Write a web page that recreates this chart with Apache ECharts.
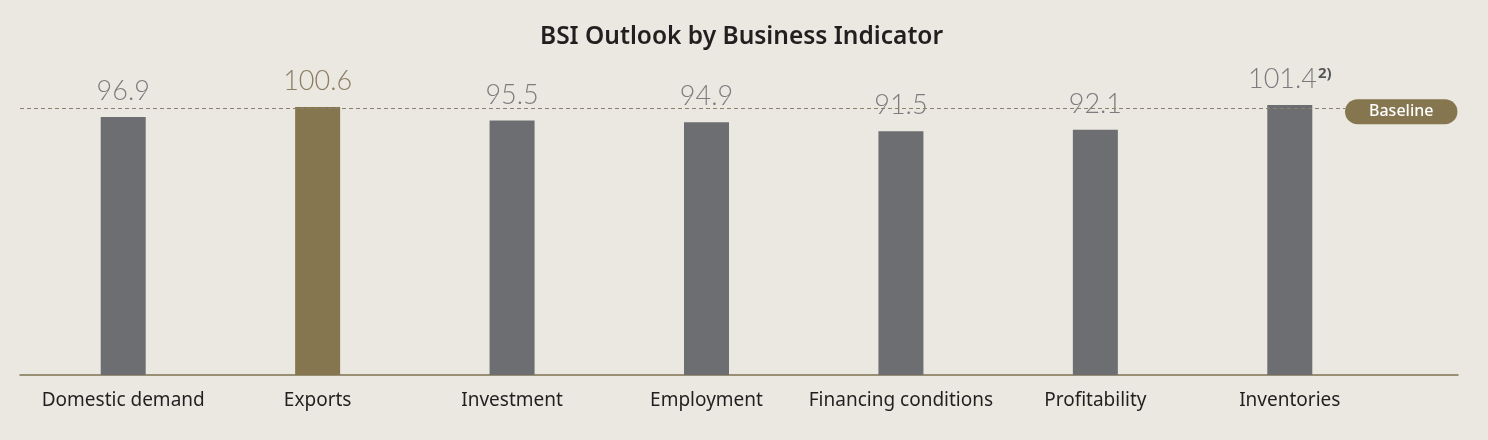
<!DOCTYPE html>
<html>
<head>
<meta charset="utf-8">
<script src="https://cdn.jsdelivr.net/npm/echarts@6/dist/echarts.min.js"></script>
<style>
  html,body{margin:0;padding:0;background:#ebe8e1;}
  #main{width:1488px;height:440px;}
</style>
</head>
<body>
<div id="main"></div>
<script>
const categories=['Domestic demand','Exports','Investment','Employment','Financing conditions','Profitability','Inventories']
const values=[96.9,100.6,95.5,94.9,91.5,92.1,101.4]
const notes=['','','','','','','2)']
const highlight='Exports'
const baseline=100

const gray='#6d6e71'
const gold='#857650'

const myChart=echarts.init(document.querySelector('#main'))
const option={
  backgroundColor:'#ebe8e1',
  title:{
    text:'BSI Outlook by Business Indicator',
    left:535,
    top:20,
    textStyle:{fontFamily:'Noto Sans',fontSize:24.5,fontWeight:600,color:'#231f20'}
  },
  grid:[
    {left:26,right:101,top:82,bottom:65},
    {left:20,right:30,top:82,bottom:65},
    {left:20,right:143,top:82,bottom:65}
  ],
  xAxis:[
    {
      type:'category',gridIndex:0,data:categories,
      axisLine:{show:false},axisTick:{show:false},
      axisLabel:{interval:0,fontFamily:'Noto Sans',fontSize:19,color:'#231f20',margin:16}
    },
    {
      type:'category',gridIndex:1,data:[''],
      axisLine:{show:true,lineStyle:{color:'#7d7150',width:1.5}},
      axisTick:{show:false},axisLabel:{show:false}
    },
    {type:'category',gridIndex:2,data:[''],show:false}
  ],
  yAxis:[
    {type:'value',gridIndex:0,min:0,max:110,show:false},
    {type:'value',gridIndex:1,min:0,max:110,show:false},
    {type:'value',gridIndex:2,min:0,max:110,show:false}
  ],
  series:[
    {
      type:'bar',
      xAxisIndex:0,yAxisIndex:0,
      barWidth:45,
      data:values.map((v,i)=>({
        value:v,
        itemStyle:{color:categories[i]===highlight?gold:gray},
        label:{color:categories[i]===highlight?'#8a7e64':'#7c7c7e'}
      })),
      label:{
        show:true,
        position:'top',
        distance:12,
        fontFamily:'Lato',
        fontWeight:300,
        fontSize:27,
        formatter:p=>notes[p.dataIndex]?`{v|${p.value}}{s|${notes[p.dataIndex]}}`:`${p.value}`,
        rich:{
          v:{fontFamily:'Lato',fontWeight:300,fontSize:27,color:'#7c7c7e'},
          s:{fontFamily:'Noto Sans',fontWeight:'bold',fontSize:15,color:'#55565a',verticalAlign:'top',padding:[0,0,12,1]}
        }
      }
    },
    {
      type:'line',
      xAxisIndex:2,yAxisIndex:2,
      data:[null],
      silent:true,
      markLine:{
        symbol:'none',
        silent:true,
        lineStyle:{type:[4,3],color:'#8a8170',width:1},
        data:[{yAxis:baseline}],
        label:{
          show:true,
          position:'end',
          distance:0,
          offset:[0,3],
          formatter:'Baseline',
          color:'#ffffff',
          fontFamily:'Noto Sans',
          fontSize:16,
          fontWeight:500,
          backgroundColor:gold,
          borderRadius:13,
          padding:[5,24,4,24]
        }
      }
    }
  ]
}
myChart.setOption(option)
</script>
</body>
</html>
